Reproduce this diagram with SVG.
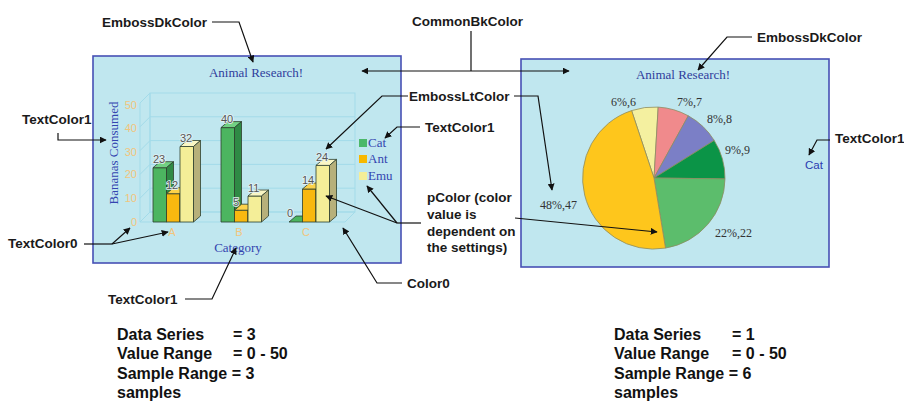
<svg xmlns="http://www.w3.org/2000/svg" width="904" height="401" viewBox="0 0 904 401">
  <defs>
    <marker id="arrow" viewBox="0 0 10 10" refX="9" refY="5" markerWidth="7" markerHeight="7" markerUnits="userSpaceOnUse" orient="auto">
      <path d="M0,0 L10,5 L0,10 Z" fill="#111"/>
    </marker>
    <style>
      .lbl { font-family: "Liberation Sans", Arial, sans-serif; font-weight: bold; font-size: 13.5px; fill: #1a1a1a; }
      .info { font-family: "Liberation Sans", Arial, sans-serif; font-weight: bold; font-size: 16px; fill: #111; }
      .panel { fill: #c0e7ef; stroke: #4650b5; stroke-width: 1.6; }
      .ctitle { font-family: "Liberation Serif", "DejaVu Serif", serif; font-size: 13px; fill: #2f3d9c; }
      .axis { font-family: "Liberation Serif", "DejaVu Serif", serif; font-size: 13px; fill: #3445b0; }
      .tick { font-family: "Liberation Sans", Arial, sans-serif; font-size: 11px; fill: #f2c57c; }
      .val { font-family: "Liberation Sans", Arial, sans-serif; font-size: 11px; fill: #555; stroke: #e4f2f4; stroke-width: 1.6; paint-order: stroke; }
      .pie { font-family: "Liberation Serif", "DejaVu Serif", serif; font-size: 12px; fill: #333; }
      .grid { fill: none; stroke: #a3dbe9; stroke-width: 1; }
      .edge { stroke: #2d3f2d; stroke-width: 0.8; stroke-linejoin: round; }
      .slice { stroke: #8d8d62; stroke-width: 0.8; }
      .conn { fill: none; stroke: #111; stroke-width: 1.2; }
    </style>
  </defs>
  <rect width="904" height="401" fill="#ffffff"/>

  <!-- Bar chart panel -->
  <g id="bar-chart">
    <rect class="panel" x="93" y="56" width="308" height="207"/>
    <text class="ctitle" x="256" y="77" text-anchor="middle">Animal Research!</text>
    <!-- 3D plot walls -->
    <polygon points="140,103 150,93 150,212 140,222" fill="#c8ecf3" class="grid"/>
    <polygon points="140,222 150,212 355,212 345,222" fill="#c8ecf3" class="grid"/>
    <rect x="150" y="93" width="205" height="119" fill="#c6eaf2" class="grid"/>
    <g class="grid">
      <line x1="150" y1="116.8" x2="355" y2="116.8"/>
      <line x1="150" y1="140.6" x2="355" y2="140.6"/>
      <line x1="150" y1="164.4" x2="355" y2="164.4"/>
      <line x1="150" y1="188.2" x2="355" y2="188.2"/>
      <line x1="140" y1="126.8" x2="150" y2="116.8"/>
      <line x1="140" y1="150.6" x2="150" y2="140.6"/>
      <line x1="140" y1="174.4" x2="150" y2="164.4"/>
      <line x1="140" y1="198.2" x2="150" y2="188.2"/>
    </g>
    <!-- value axis ticks -->
    <g class="tick" text-anchor="end">
      <text x="137" y="109">50</text>
      <text x="137" y="132">40</text>
      <text x="137" y="156">30</text>
      <text x="137" y="178">20</text>
      <text x="137" y="202">10</text>
      <text x="137" y="226">0</text>
    </g>
    <g class="tick" text-anchor="middle">
      <text x="172" y="236">A</text>
      <text x="239" y="236">B</text>
      <text x="306" y="236">C</text>
    </g>
    <text class="axis" transform="translate(118,153) rotate(-90)" text-anchor="middle">Bananas Consumed</text>
    <text class="axis" x="238" y="252" text-anchor="middle">Category</text>

    <!-- Group A -->
    <g class="edge">
      <rect x="153" y="167.7" width="13.5" height="54.3" fill="#4cb560"/>
      <polygon points="153,167.7 160,161.7 173.5,161.7 166.5,167.7" fill="#72d184"/>
      <polygon points="166.5,167.7 173.5,161.7 173.5,216 166.5,222" fill="#2f8a45"/>
      <rect x="166.5" y="193.7" width="13.5" height="28.3" fill="#f9b80f"/>
      <polygon points="166.5,193.7 173.5,187.7 187,187.7 180,193.7" fill="#fcd24a"/>
      <polygon points="180,193.7 187,187.7 187,216 180,222" fill="#c58a00"/>
      <rect x="180" y="146.5" width="13.5" height="75.5" fill="#f4ee98"/>
      <polygon points="180,146.5 187,140.5 200.5,140.5 193.5,146.5" fill="#faf6c4"/>
      <polygon points="193.5,146.5 200.5,140.5 200.5,216 193.5,222" fill="#b7b07a"/>
    </g>
    <!-- Group B -->
    <g class="edge">
      <rect x="221" y="127.6" width="13.5" height="94.4" fill="#4cb560"/>
      <polygon points="221,127.6 228,121.6 241.5,121.6 234.5,127.6" fill="#72d184"/>
      <polygon points="234.5,127.6 241.5,121.6 241.5,216 234.5,222" fill="#2f8a45"/>
      <rect x="234.5" y="210.2" width="13.5" height="11.8" fill="#f9b80f"/>
      <polygon points="234.5,210.2 241.5,204.2 255,204.2 248,210.2" fill="#fcd24a"/>
      <polygon points="248,210.2 255,204.2 255,216 248,222" fill="#c58a00"/>
      <rect x="248" y="196" width="13.5" height="26" fill="#f4ee98"/>
      <polygon points="248,196 255,190 268.5,190 261.5,196" fill="#faf6c4"/>
      <polygon points="261.5,196 268.5,190 268.5,216 261.5,222" fill="#b7b07a"/>
    </g>
    <!-- Group C -->
    <g class="edge">
      <polygon points="289,222 296,216 309.5,216 302.5,222" fill="#4cb560"/>
      <rect x="302.5" y="189" width="13.5" height="33" fill="#f9b80f"/>
      <polygon points="302.5,189 309.5,183 323,183 316,189" fill="#fcd24a"/>
      <polygon points="316,189 323,183 323,216 316,222" fill="#c58a00"/>
      <rect x="316" y="165.4" width="13.5" height="56.6" fill="#f4ee98"/>
      <polygon points="316,165.4 323,159.4 336.5,159.4 329.5,165.4" fill="#faf6c4"/>
      <polygon points="329.5,165.4 336.5,159.4 336.5,216 329.5,222" fill="#b7b07a"/>
    </g>
    <!-- data values -->
    <g class="val">
      <text x="153" y="163">23</text>
      <text x="166" y="189">12</text>
      <text x="180" y="142">32</text>
      <text x="221" y="123">40</text>
      <text x="233" y="206">5</text>
      <text x="248" y="192">11</text>
      <text x="287" y="217">0</text>
      <text x="302" y="184">14</text>
      <text x="316" y="161">24</text>
    </g>
    <!-- legend -->
    <rect x="359" y="139" width="8" height="8" fill="#4cb86a"/>
    <rect x="359" y="155" width="8" height="8" fill="#f7b800"/>
    <rect x="359" y="172" width="8" height="8" fill="#f4ee98"/>
    <text class="axis" x="368" y="147">Cat</text>
    <text class="axis" x="368" y="163">Ant</text>
    <text class="axis" x="368" y="180">Emu</text>
  </g>

  <!-- Pie chart panel -->
  <g id="pie-chart">
    <rect class="panel" x="521" y="59" width="308" height="208"/>
    <text class="ctitle" x="683" y="79" text-anchor="middle">Animal Research!</text>
    <g class="slice">
      <path d="M654,178 L631.6,110.6 A71,71 0 0 1 658.2,107.1 Z" fill="#f4f0a0"/>
      <path d="M654,178 L658.2,107.1 A71,71 0 0 1 688.3,115.8 Z" fill="#f08a8c"/>
      <path d="M654,178 L688.3,115.8 A71,71 0 0 1 714.2,140.4 Z" fill="#7b7fc6"/>
      <path d="M654,178 L714.2,140.4 A71,71 0 0 1 725,178.9 Z" fill="#0b9447"/>
      <path d="M654,178 L725,178.9 A71,71 0 0 1 665.5,248.1 Z" fill="#5cbd6c"/>
      <path d="M654,178 L665.5,248.1 A71,71 0 0 1 631.6,110.6 Z" fill="#fec61c"/>
    </g>
    <g class="pie">
      <text x="611" y="106">6%,6</text>
      <text x="677" y="106">7%,7</text>
      <text x="707" y="123">8%,8</text>
      <text x="725" y="154">9%,9</text>
      <text x="715" y="237">22%,22</text>
      <text x="540" y="209">48%,47</text>
    </g>
    <text x="805" y="169" font-family="Liberation Sans, Arial, sans-serif" font-size="11.5" fill="#2a3ab0">Cat</text>
  </g>

  <!-- Callout labels -->
  <g id="lbl-embossdk-left"><text class="lbl" x="102" y="27">EmbossDkColor</text></g>
  <g id="lbl-commonbk"><text class="lbl" x="412" y="26">CommonBkColor</text></g>
  <g id="lbl-embossdk-right"><text class="lbl" x="757" y="42">EmbossDkColor</text></g>
  <g id="lbl-textcolor1-left"><text class="lbl" x="22" y="124">TextColor1</text></g>
  <g id="lbl-embosslt"><text class="lbl" x="409" y="101">EmbossLtColor</text></g>
  <g id="lbl-textcolor1-mid"><text class="lbl" x="425" y="132">TextColor1</text></g>
  <g id="lbl-textcolor1-right"><text class="lbl" x="835" y="143">TextColor1</text></g>
  <g id="lbl-textcolor0"><text class="lbl" x="8" y="248">TextColor0</text></g>
  <g id="lbl-textcolor1-bottom"><text class="lbl" x="108" y="304">TextColor1</text></g>
  <g id="lbl-color0"><text class="lbl" x="407" y="288">Color0</text></g>
  <g id="lbl-pcolor">
    <text class="lbl" x="427" y="202">pColor (color</text>
    <text class="lbl" x="427" y="219">value is</text>
    <text class="lbl" x="427" y="236">dependent on</text>
    <text class="lbl" x="427" y="252">the settings)</text>
  </g>

  <!-- Summary blocks -->
  <g id="summary-bar" class="info">
    <text x="117" y="340">Data Series</text><text x="233" y="340">= 3</text>
    <text x="117" y="359">Value Range</text><text x="233" y="359">= 0 - 50</text>
    <text x="117" y="379">Sample Range = 3</text>
    <text x="117" y="398">samples</text>
  </g>
  <g id="summary-pie" class="info">
    <text x="614" y="340">Data Series</text><text x="732" y="340">= 1</text>
    <text x="614" y="359">Value Range</text><text x="732" y="359">= 0 - 50</text>
    <text x="614" y="379">Sample Range = 6</text>
    <text x="614" y="398">samples</text>
  </g>

  <!-- Connectors -->
  <g id="connectors" class="conn">
    <polyline points="212,22 239,22 253,62" marker-end="url(#arrow)"/>
    <line x1="471" y1="31" x2="471" y2="71"/>
    <line x1="471" y1="71" x2="362" y2="71" marker-end="url(#arrow)"/>
    <line x1="471" y1="71" x2="569" y2="71" marker-end="url(#arrow)"/>
    <polyline points="752,37 727,37 698,70" marker-end="url(#arrow)"/>
    <polyline points="58,133 58,140 106,140" marker-end="url(#arrow)"/>
    <line x1="84" y1="244" x2="112" y2="244"/>
    <line x1="112" y1="244" x2="130" y2="228" marker-end="url(#arrow)"/>
    <line x1="112" y1="244" x2="168" y2="232" marker-end="url(#arrow)"/>
    <polyline points="185,299 212,299 236,248" marker-end="url(#arrow)"/>
    <polyline points="402,283 377,283 343,228" marker-end="url(#arrow)"/>
    <polyline points="408,96 382,96 326,149" marker-end="url(#arrow)"/>
    <polyline points="514,96 538,96 552,190" marker-end="url(#arrow)"/>
    <polyline points="420,127 397,127 385,138" marker-end="url(#arrow)"/>
    <polyline points="830,140 817,140 809,155" marker-end="url(#arrow)"/>
    <line x1="421" y1="223" x2="397" y2="223"/>
    <line x1="397" y1="223" x2="326" y2="196" marker-end="url(#arrow)"/>
    <line x1="397" y1="223" x2="367" y2="186" marker-end="url(#arrow)"/>
    <line x1="515" y1="218" x2="657" y2="232" marker-end="url(#arrow)"/>
  </g>
</svg>
